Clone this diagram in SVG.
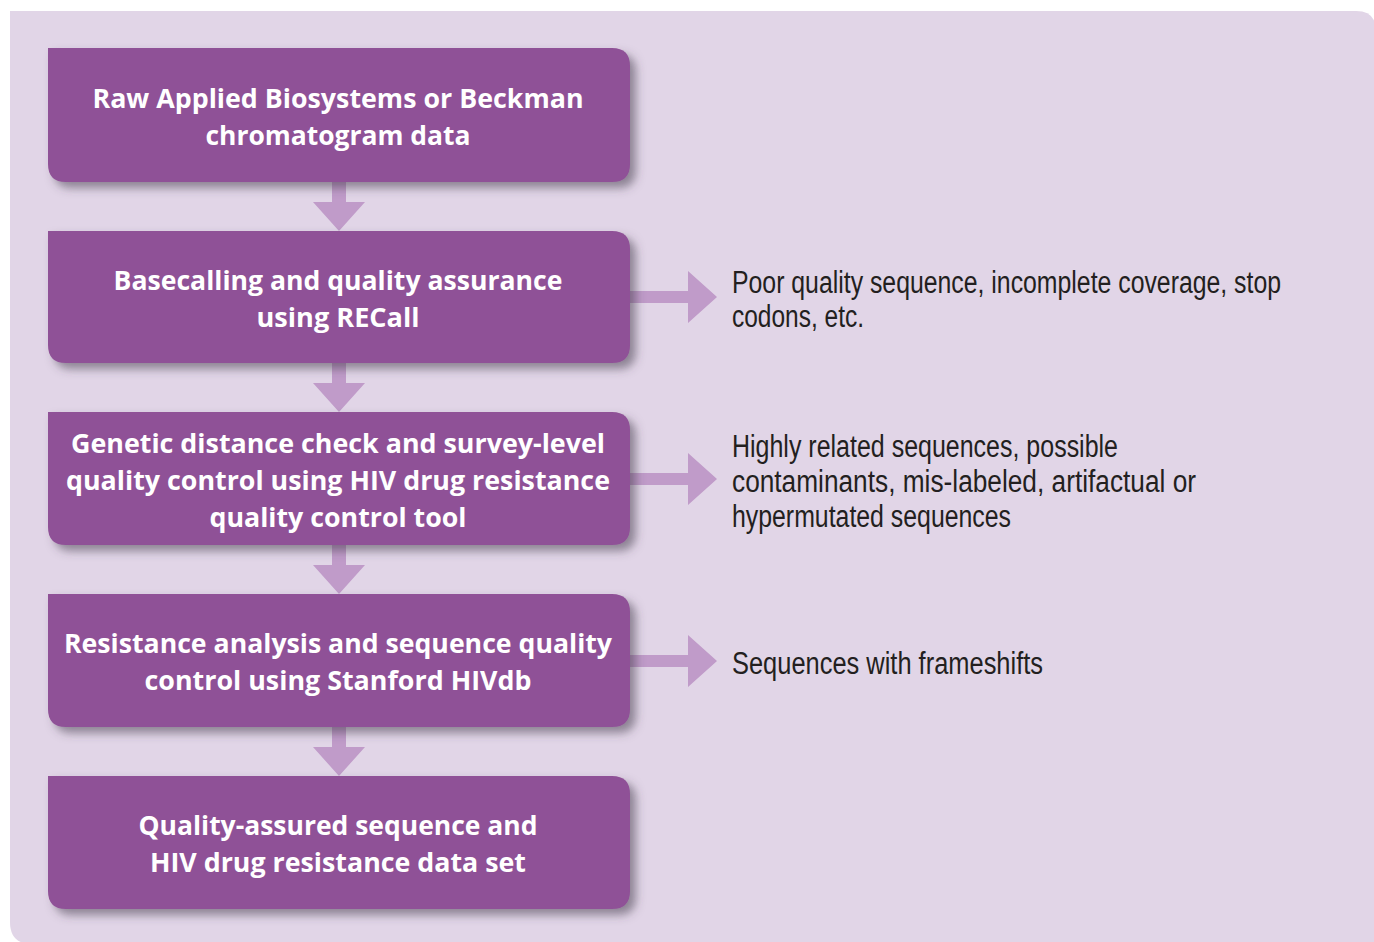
<svg xmlns="http://www.w3.org/2000/svg" width="1374" height="942" viewBox="0 0 1374 942">
  <style>
    .panel { fill: #e1d5e7; }
    .box { fill: #8f5197; filter: url(#shadow); }
    .arrow { fill: #c09bc9; }
    .label { fill: #ffffff; font-family: "Open Sans", "Noto Sans", sans-serif; font-weight: bold; font-size: 27px; text-anchor: middle; }
    .note { fill: #231f20; font-family: "Liberation Sans", Arial, sans-serif; font-size: 31px; }
  </style>
  <defs>
    <filter id="shadow" x="-10%" y="-20%" width="130%" height="150%">
      <feDropShadow dx="6" dy="6" stdDeviation="5" flood-color="#4a4050" flood-opacity="0.55"/>
    </filter>
    <path id="down" d="M-7,0 H7 V20 H26 L0,49 L-26,20 H-7 Z"/>
    <path id="right" d="M0,-6 H58 V-26 L87,0 L58,26 V6 H0 Z"/>
  </defs>

  <!-- background panel -->
  <path class="panel" d="M10,11 H1356 Q1376,11 1376,31 V944 H32 Q10,944 10,922 Z"/>

  <!-- connectors -->
  <g id="connectors">
    <use href="#down" class="arrow" x="339" y="182"/>
    <use href="#down" class="arrow" x="339" y="363"/>
    <use href="#down" class="arrow" x="339" y="545"/>
    <use href="#down" class="arrow" x="339" y="727"/>
    <use href="#right" class="arrow" x="630" y="297"/>
    <use href="#right" class="arrow" x="630" y="479"/>
    <use href="#right" class="arrow" x="630" y="661"/>
  </g>

  <!-- process steps -->
  <g id="step1">
    <path class="box" d="M48,48 H612 Q630,48 630,66 V164 Q630,182 612,182 H66 Q48,182 48,164 Z"/>
    <text class="label" x="338" y="108" textLength="491" lengthAdjust="spacingAndGlyphs">Raw Applied Biosystems or Beckman</text>
    <text class="label" x="338" y="145" textLength="265" lengthAdjust="spacingAndGlyphs">chromatogram data</text>
  </g>
  <g id="step2">
    <path class="box" d="M48,231 H612 Q630,231 630,249 V345 Q630,363 612,363 H66 Q48,363 48,345 Z"/>
    <text class="label" x="338" y="290" textLength="449" lengthAdjust="spacingAndGlyphs">Basecalling and quality assurance</text>
    <text class="label" x="338" y="327" textLength="163" lengthAdjust="spacingAndGlyphs">using RECall</text>
  </g>
  <g id="step3">
    <path class="box" d="M48,412 H612 Q630,412 630,430 V527 Q630,545 612,545 H66 Q48,545 48,527 Z"/>
    <text class="label" x="338" y="453" textLength="534" lengthAdjust="spacingAndGlyphs">Genetic distance check and survey-level</text>
    <text class="label" x="338" y="490" textLength="544" lengthAdjust="spacingAndGlyphs">quality control using HIV drug resistance</text>
    <text class="label" x="338" y="527" textLength="257" lengthAdjust="spacingAndGlyphs">quality control tool</text>
  </g>
  <g id="step4">
    <path class="box" d="M48,594 H612 Q630,594 630,612 V709 Q630,727 612,727 H66 Q48,727 48,709 Z"/>
    <text class="label" x="338" y="653" textLength="548" lengthAdjust="spacingAndGlyphs">Resistance analysis and sequence quality</text>
    <text class="label" x="338" y="690" textLength="387" lengthAdjust="spacingAndGlyphs">control using Stanford HIVdb</text>
  </g>
  <g id="step5">
    <path class="box" d="M48,776 H612 Q630,776 630,794 V891 Q630,909 612,909 H66 Q48,909 48,891 Z"/>
    <text class="label" x="338" y="835" textLength="399" lengthAdjust="spacingAndGlyphs">Quality-assured sequence and</text>
    <text class="label" x="338" y="872" textLength="376" lengthAdjust="spacingAndGlyphs">HIV drug resistance data set</text>
  </g>

  <!-- excluded outcomes -->
  <g id="note1">
    <text class="note" x="732" y="293" textLength="549" lengthAdjust="spacingAndGlyphs">Poor quality sequence, incomplete coverage, stop</text>
    <text class="note" x="732" y="327" textLength="132" lengthAdjust="spacingAndGlyphs">codons, etc.</text>
  </g>
  <g id="note2">
    <text class="note" x="732" y="457" textLength="386" lengthAdjust="spacingAndGlyphs">Highly related sequences, possible</text>
    <text class="note" x="732" y="492" textLength="464" lengthAdjust="spacingAndGlyphs">contaminants, mis-labeled, artifactual or</text>
    <text class="note" x="732" y="527" textLength="279" lengthAdjust="spacingAndGlyphs">hypermutated sequences</text>
  </g>
  <g id="note3">
    <text class="note" x="732" y="674" textLength="311" lengthAdjust="spacingAndGlyphs">Sequences with frameshifts</text>
  </g>
</svg>
